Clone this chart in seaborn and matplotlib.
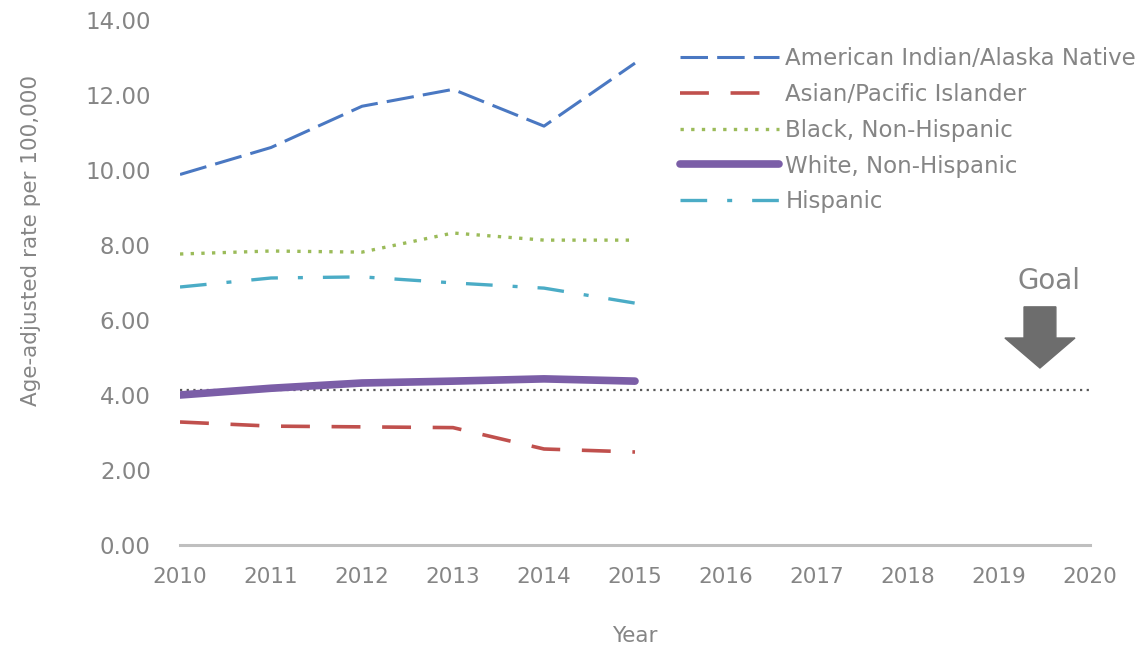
import matplotlib
matplotlib.use("Agg")
import matplotlib.pyplot as plt
import seaborn as sns
import pandas as pd

years = [2010, 2011, 2012, 2013, 2014, 2015]
aian = [9.88, 10.6, 11.7, 12.15, 11.17, 12.85]
api = [3.28, 3.17, 3.15, 3.13, 2.56, 2.48]
black = [7.76, 7.84, 7.81, 8.32, 8.13, 8.13]
white = [4.0, 4.18, 4.32, 4.37, 4.43, 4.37]
hisp = [6.88, 7.12, 7.15, 6.99, 6.85, 6.45]
goal_years = [2010, 2020]
goal_value = [4.13, 4.13]
xticks = list(range(2010, 2021))
yticks = [0, 2, 4, 6, 8, 10, 12, 14]

names = ["American Indian/Alaska Native", "Asian/Pacific Islander",
         "Black, Non-Hispanic", "White, Non-Hispanic", "Hispanic"]
series = [aian, api, black, white, hisp]
colors = ["#4a78c2", "#c0504d", "#9bbb59", "#7b5ea7", "#4bacc6"]
styles = [(0, (9, 3)), (0, (8, 6)), (0, (1, 2.2)), "-", (0, (8, 6, 1.5, 6))]
widths = [2.2, 2.6, 2.4, 5.5, 2.4]
txt = "#858585"

sns.set_theme(style="white")
plt.rcParams['font.family'] = ['DejaVu Sans']
fig = plt.figure(figsize=(11.41, 6.47), dpi=100)
ax = fig.add_axes([180/1141, 1-545/647, (1090-180)/1141, (545-20)/647])

gdf = pd.DataFrame({"Year": goal_years, "v": goal_value})
sns.lineplot(data=gdf, x="Year", y="v", ax=ax, color="#595959",
             linestyle=(0, (1, 2)), linewidth=1.6, zorder=1)

for name, vals, c, ls, lw in zip(names, series, colors, styles, widths):
    df = pd.DataFrame({"Year": years, "v": vals})
    sns.lineplot(data=df, x="Year", y="v", ax=ax, color=c, linestyle=ls,
                 linewidth=lw, label=name, zorder=3)

ax.set_xlim(2010, 2020)
ax.set_ylim(0, 14)
ax.set_xticks(xticks)
ax.set_xticklabels([str(x) for x in xticks])
ax.set_yticks(yticks)
ax.set_yticklabels([f"{v:.2f}" for v in yticks])
ax.tick_params(axis="x", length=0, labelsize=15.5, colors=txt, pad=16)
ax.tick_params(axis="y", length=0, labelsize=16.5, colors=txt, pad=21)
for s in ["top", "right", "left"]:
    ax.spines[s].set_visible(False)
ax.spines["bottom"].set_color("#bfbfbf")
ax.spines["bottom"].set_linewidth(2.2)
ax.set_xlabel("Year", fontsize=15.5, color=txt, labelpad=28)
ax.set_ylabel("Age-adjusted rate per 100,000", fontsize=15.5, color=txt)
ax.yaxis.set_label_coords(-0.153, 0.58)

ax.arrow(2019.45, 6.35, 0, -1.63, width=0.35, head_width=0.77, head_length=0.8,
         length_includes_head=True, color="#6d6d6d", zorder=4)
ax.text(2019.55, 7.05, "Goal", fontsize=20, color=txt, ha="center", va="center")

leg = ax.legend(loc="upper left", bbox_to_anchor=(680/1141, 1-47/647),
                bbox_transform=fig.transFigure, frameon=False, fontsize=16.5,
                handlelength=4.3, handletextpad=0.3, labelspacing=0.56,
                borderaxespad=0, borderpad=0)
for t in leg.get_texts():
    t.set_color(txt)

fig.savefig("out.png", dpi=100)
